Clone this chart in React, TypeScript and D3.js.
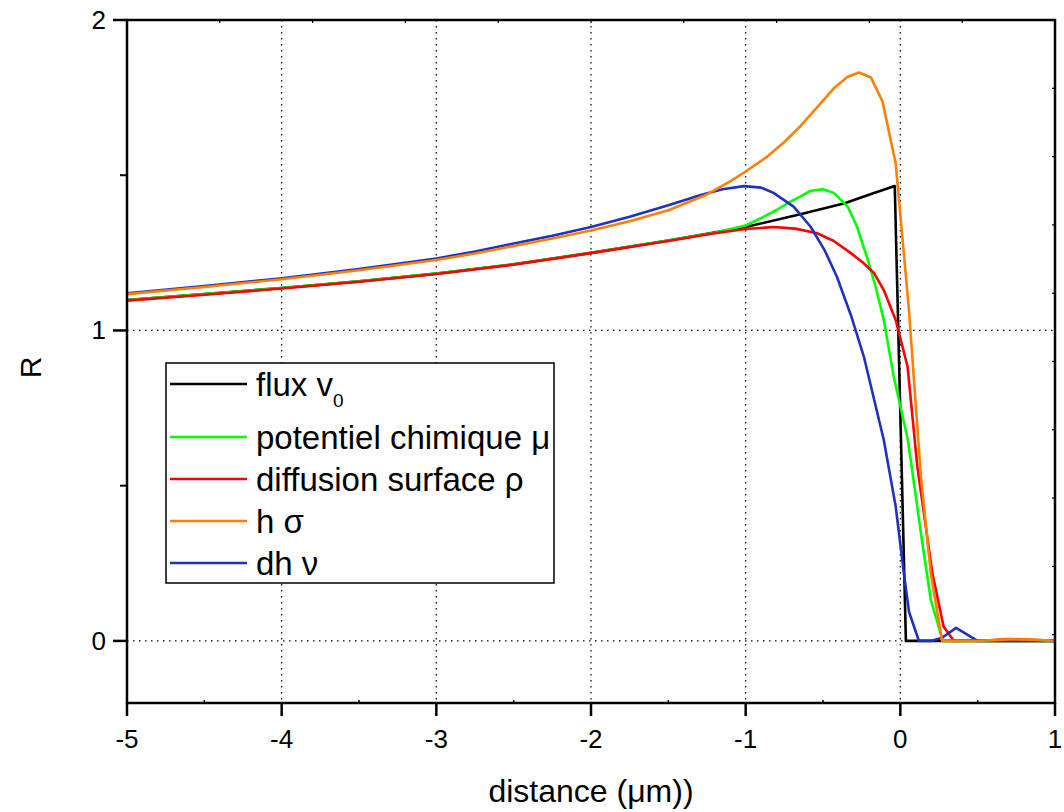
import React from "react";
import * as d3 from "d3";

// ---- data ----
const fluxX = [-5, -4.5, -4, -3.5, -3, -2.5, -2, -1.5, -1, -0.64, -0.36, -0.17, -0.036, 0.036, 1];
const fluxY = [1.098, 1.117, 1.137, 1.158, 1.183, 1.213, 1.25, 1.29, 1.333, 1.375, 1.41, 1.443, 1.465, 0, 0];

const muX = [-5, -4.5, -4, -3.5, -3, -2.5, -2, -1.5, -1.2, -1.0, -0.9, -0.8, -0.71, -0.65, -0.585, -0.5, -0.43, -0.34, -0.28, -0.21, -0.16, -0.107, -0.042, 0.049, 0.133, 0.197, 0.275, 1];
const muY = [1.098, 1.117, 1.137, 1.158, 1.183, 1.213, 1.25, 1.29, 1.315, 1.338, 1.362, 1.388, 1.415, 1.43, 1.449, 1.455, 1.443, 1.399, 1.334, 1.227, 1.141, 1.034, 0.85, 0.647, 0.348, 0.132, 0, 0];

const rhoX = [-5, -4.5, -4, -3.5, -3, -2.5, -2, -1.5, -1.2, -1.0, -0.82, -0.68, -0.537, -0.43, -0.32, -0.24, -0.17, -0.107, -0.03, 0.047, 0.11, 0.207, 0.28, 0.347, 0.6, 0.7, 0.8, 1];
const rhoY = [1.096, 1.115, 1.135, 1.157, 1.182, 1.212, 1.249, 1.288, 1.313, 1.327, 1.333, 1.328, 1.313, 1.288, 1.249, 1.218, 1.185, 1.13, 1.034, 0.883, 0.561, 0.218, 0.046, 0, 0.003, 0.006, 0.004, 0];

const sigmaX = [-5, -4.5, -4, -3.5, -3, -2.75, -2.5, -2.25, -2, -1.75, -1.5, -1.25, -1.1, -1.0, -0.86, -0.75, -0.65, -0.54, -0.43, -0.34, -0.267, -0.19, -0.115, -0.03, 0.055, 0.133, 0.197, 0.27, 0.5, 0.7, 0.85, 1];
const sigmaY = [1.117, 1.14, 1.165, 1.194, 1.227, 1.248, 1.272, 1.296, 1.322, 1.352, 1.387, 1.438, 1.48, 1.512, 1.56, 1.607, 1.656, 1.718, 1.78, 1.817, 1.831, 1.815, 1.737, 1.538, 1.07, 0.529, 0.218, 0, 0, 0.005, 0.004, 0];

const nuX = [-5, -4.5, -4, -3.5, -3, -2.75, -2.5, -2.25, -2, -1.75, -1.5, -1.29, -1.15, -1.01, -0.9, -0.82, -0.69, -0.58, -0.49, -0.41, -0.32, -0.236, -0.107, -0.03, 0.023, 0.056, 0.12, 0.2, 0.27, 0.36, 0.5, 1];
const nuY = [1.12, 1.143, 1.168, 1.198, 1.232, 1.254, 1.28, 1.305, 1.333, 1.366, 1.403, 1.436, 1.455, 1.465, 1.46, 1.443, 1.399, 1.334, 1.259, 1.173, 1.05, 0.916, 0.647, 0.433, 0.218, 0.094, 0, 0, 0.01, 0.042, 0, 0];

const seriesNames = ["flux v", "potentiel chimique μ", "diffusion surface ρ", "h σ", "dh ν"];
const seriesColors = ["#000000", "#00ff00", "#ff0000", "#ff8000", "#2030c0"];
const seriesXs = [fluxX, muX, rhoX, sigmaX, nuX];
const seriesYs = [fluxY, muY, rhoY, sigmaY, nuY];
const drawOrder = [0, 1, 2, 4, 3];

const xMajor = [-5, -4, -3, -2, -1, 0, 1];
const xMinor = [-4.5, -3.5, -2.5, -1.5, -0.5, 0.5];
const yMajor = [0, 1, 2];
const yMinor = [0.5, 1.5];
const xGrid = [-4, -3, -2, -1, 0];
const yGrid = [0, 1];

const xTitle = "distance (μm))";
const yTitle = "R";

const FONT = "'Liberation Sans', Arial, Helvetica, sans-serif";

export default function App() {
  const L = 127, R = 1055, T = 20, B = 703;
  const x = d3.scaleLinear().domain([-5, 1]).range([L, R]);
  const y = d3.scaleLinear().domain([-0.2, 2]).range([B, T]);

  const topTicks = d3.range(11).map((i) => -5 + i * 0.6);
  const rightTicks = d3.range(11).map((i) => -0.2 + i * 0.22);

  const line = (xs: number[], ys: number[]) =>
    d3.line<number>().x((_, i) => x(xs[i])).y((_, i) => y(ys[i]))(xs.map((_, i) => i)) || "";

  // legend geometry
  const lgL = 166, lgT = 363, lgR = 554, lgB = 583;
  const rowY = (i: number) => (i === 0 ? lgT + 21 : lgT + 74 + (i - 1) * 42);

  return (
    <div style={{ position: "fixed", left: 0, top: 0 }}>
      <svg width={1064} height={812} style={{ display: "block", background: "#fff" }} fontFamily={FONT}>
        <rect x={0} y={0} width={1064} height={812} fill="#fff" />
        {/* grid */}
        {xGrid.map((v) => (
          <line key={"gx" + v} x1={x(v)} x2={x(v)} y1={T} y2={B} stroke="#000" strokeWidth={1.2} strokeDasharray="1.5,4.5" />
        ))}
        {yGrid.map((v) => (
          <line key={"gy" + v} x1={L} x2={R} y1={y(v)} y2={y(v)} stroke="#000" strokeWidth={1.2} strokeDasharray="1.5,4.5" />
        ))}

        {/* series */}
        {drawOrder.map((k) => (
          <path key={"s" + k} d={line(seriesXs[k], seriesYs[k])} fill="none" stroke={seriesColors[k]} strokeWidth={2.6} strokeLinejoin="round" />
        ))}

        {/* frame */}
        <rect x={L} y={T} width={R - L} height={B - T} fill="none" stroke="#000" strokeWidth={2.5} />

        {/* left axis ticks */}
        {yMajor.map((v) => (
          <g key={"ym" + v}>
            <line x1={L - 14} x2={L} y1={y(v)} y2={y(v)} stroke="#000" strokeWidth={2.5} />
            <text x={106} y={y(v) + 9} fontSize={26} textAnchor="end" fill="#000">{v}</text>
          </g>
        ))}
        {yMinor.map((v) => (
          <line key={"yn" + v} x1={L - 7} x2={L} y1={y(v)} y2={y(v)} stroke="#000" strokeWidth={2} />
        ))}

        {/* bottom axis ticks */}
        {xMajor.map((v) => (
          <g key={"xm" + v}>
            <line x1={x(v)} x2={x(v)} y1={B} y2={B + 13} stroke="#000" strokeWidth={2.5} />
            <text x={x(v)} y={B + 45} fontSize={26} textAnchor="middle" fill="#000">{v}</text>
          </g>
        ))}
        {xMinor.map((v) => (
          <line key={"xn" + v} x1={x(v)} x2={x(v)} y1={B} y2={B - 3} stroke="#000" strokeWidth={1.5} />
        ))}

        {/* top and right tiny ticks */}
        {topTicks.map((v, i) => (
          <line key={"tt" + i} x1={x(v)} x2={x(v)} y1={T} y2={T + 3} stroke="#000" strokeWidth={1.2} />
        ))}
        {rightTicks.map((v, i) => (
          <line key={"rt" + i} x1={R} x2={R - 3} y1={y(v)} y2={y(v)} stroke="#000" strokeWidth={1.2} />
        ))}

        {/* axis titles */}
        <text x={(L + R) / 2} y={802} fontSize={32} textAnchor="middle" fill="#000">{xTitle}</text>
        <text transform={`translate(41,${(T + B) / 2 + 6}) rotate(-90)`} fontSize={30} textAnchor="middle" fill="#000">{yTitle}</text>

        {/* legend */}
        <rect x={lgL} y={lgT} width={lgR - lgL} height={lgB - lgT} fill="#fff" stroke="#000" strokeWidth={1.5} />
        {seriesNames.map((name, i) => (
          <g key={"lg" + i}>
            <line x1={170} x2={247} y1={rowY(i)} y2={rowY(i)} stroke={seriesColors[i]} strokeWidth={2.6} />
            <text x={256} y={rowY(i) + 12} fontSize={33} fill="#000">
              {name}
              {i === 0 ? <tspan fontSize={19} dy={11}>0</tspan> : null}
            </text>
          </g>
        ))}
      </svg>
    </div>
  );
}
